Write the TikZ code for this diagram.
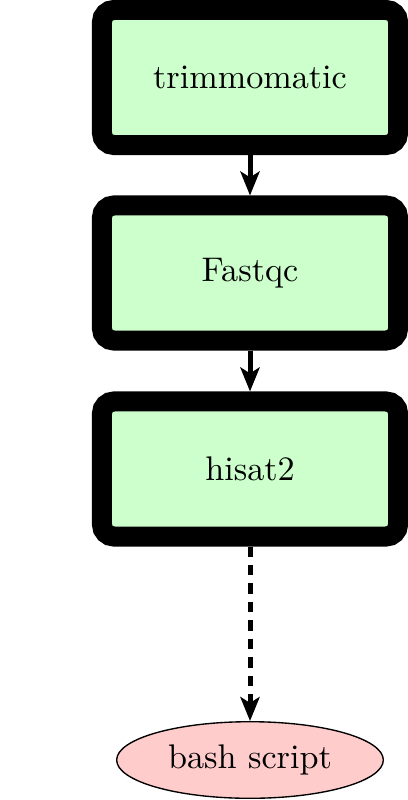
\documentclass[tikz,border=0pt]{standalone}
\usetikzlibrary{arrows.meta,shapes.geometric}
\definecolor{boxgreen}{HTML}{CCFFCC}
\definecolor{ellred}{HTML}{FFCCCC}
\begin{document}
\begin{tikzpicture}[x=0.2925pt,y=-0.2925pt,
  stepbox/.style={draw=black, fill=boxgreen, line width=5.85pt, rounded corners=3.5pt,
    minimum width=86.6pt, minimum height=39.5pt, inner sep=0pt},
  endell/.style={draw=black, fill=ellred, ellipse, line width=0.4pt,
    minimum width=78pt, minimum height=22.4pt, inner sep=0pt},
  flow/.style={line width=1.46pt, -{Stealth[length=7pt,width=5.6pt,inset=1.7pt]}},
  flowdash/.style={flow, dash pattern=on 3pt off 2.4pt}]
\useasboundingbox (0,0) rectangle (408,800);
\node[stepbox] (trim) at (250,77.5) {trimmomatic};
\node[stepbox] (fastqc) at (250,273) {Fastqc};
\node[stepbox] (hisat) at (250,469) {hisat2};
\node[endell] (bash) at (250,760) {bash script};
\draw[flow] (trim.south) -- (fastqc.north);
\draw[flow] (fastqc.south) -- (hisat.north);
\draw[flowdash] (hisat.south) -- (bash.north);
\end{tikzpicture}
\end{document}
